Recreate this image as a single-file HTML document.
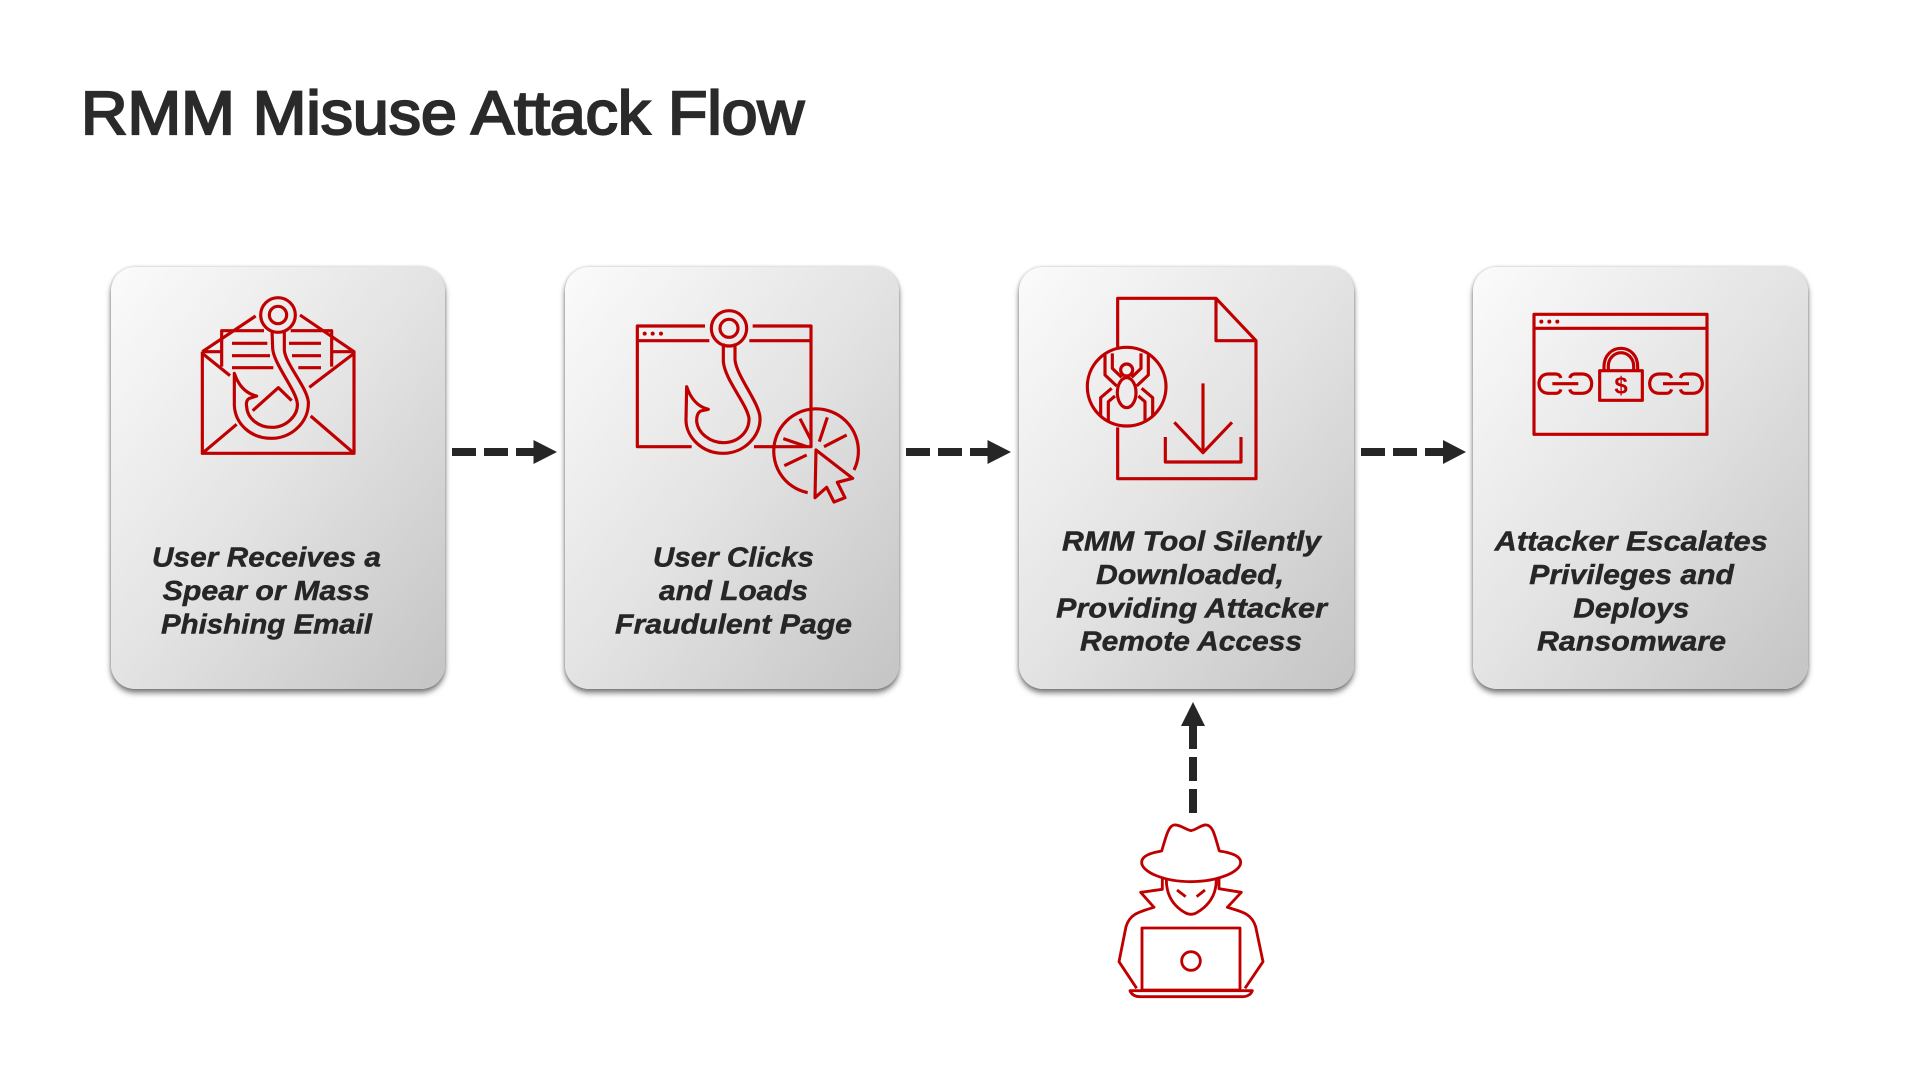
<!DOCTYPE html>
<html>
<head>
<meta charset="utf-8">
<title>RMM Misuse Attack Flow</title>
<style>
html,body{margin:0;padding:0;background:#fff;width:1920px;height:1080px;overflow:hidden}
.card{position:absolute;top:267px;width:334px;height:422px;border-radius:24px;background:linear-gradient(to bottom right,#fbfbfb 0%,#e3e3e3 50%,#c4c4c4 100%);box-shadow:0 4px 6px rgba(0,0,0,.5),0 0 3px rgba(0,0,0,.22)}
svg{position:absolute;left:0;top:0}
.lbl{font-family:"Liberation Sans",sans-serif;font-weight:700;font-style:italic;font-size:28px;fill:#262626;stroke:#262626;stroke-width:.45px}
.ttl{font-family:"Liberation Sans",sans-serif;font-weight:400;font-size:61px;fill:#2a2a2a;stroke:#2a2a2a;stroke-width:2.2px}
.ic{fill:none;stroke:#c00000;stroke-width:9.5;stroke-linejoin:round;stroke-linecap:butt}
.dk{fill:#262626;stroke:none}
</style>
</head>
<body>
<div class="card" style="left:111px"></div>
<div class="card" style="left:565px"></div>
<div class="card" style="left:1019px;width:335px"></div>
<div class="card" style="left:1473px;width:335px"></div>
<svg width="1920" height="1080" viewBox="0 0 1920 1080">
<text class="ttl" x="81" y="134" textLength="723" lengthAdjust="spacingAndGlyphs">RMM Misuse Attack Flow</text>

<!-- Labels -->
<g class="lbl">
<text x="152" y="566.7" textLength="229" lengthAdjust="spacingAndGlyphs">User Receives a</text>
<text x="162.7" y="600" textLength="207.3" lengthAdjust="spacingAndGlyphs">Spear or Mass</text>
<text x="161" y="633.3" textLength="211" lengthAdjust="spacingAndGlyphs">Phishing Email</text>

<text x="653" y="566.7" textLength="161" lengthAdjust="spacingAndGlyphs">User Clicks</text>
<text x="659" y="600" textLength="149" lengthAdjust="spacingAndGlyphs">and Loads</text>
<text x="615" y="633.3" textLength="237" lengthAdjust="spacingAndGlyphs">Fraudulent Page</text>

<text x="1062" y="550.7" textLength="259" lengthAdjust="spacingAndGlyphs">RMM Tool Silently</text>
<text x="1096" y="584" textLength="188" lengthAdjust="spacingAndGlyphs">Downloaded,</text>
<text x="1056" y="617.7" textLength="271" lengthAdjust="spacingAndGlyphs">Providing Attacker</text>
<text x="1080" y="650.7" textLength="222" lengthAdjust="spacingAndGlyphs">Remote Access</text>

<text x="1494.7" y="550.7" textLength="273" lengthAdjust="spacingAndGlyphs">Attacker Escalates</text>
<text x="1529.3" y="584" textLength="204.7" lengthAdjust="spacingAndGlyphs">Privileges and</text>
<text x="1573.3" y="617.7" textLength="116" lengthAdjust="spacingAndGlyphs">Deploys</text>
<text x="1537" y="650.7" textLength="189" lengthAdjust="spacingAndGlyphs">Ransomware</text>
</g>

<!-- Connectors -->
<g class="dk">
<rect x="452" y="448" width="24" height="8"/><rect x="484" y="448" width="24" height="8"/><rect x="516" y="448" width="20" height="8"/><polygon points="533.5,440 557,452 533.5,464"/>
<rect x="906" y="448" width="24" height="8"/><rect x="938" y="448" width="24" height="8"/><rect x="970" y="448" width="20" height="8"/><polygon points="987.5,440 1011,452 987.5,464"/>
<rect x="1361" y="448" width="24" height="8"/><rect x="1393" y="448" width="24" height="8"/><rect x="1425" y="448" width="20" height="8"/><polygon points="1443,440 1466,452 1443,464"/>
<polygon points="1193,702 1205,726 1181,726"/><rect x="1189" y="725" width="8" height="24"/><rect x="1189" y="757" width="8" height="24"/><rect x="1189" y="789" width="8" height="24"/>
</g>

<!-- Icon 1: envelope and hook -->
<g class="ic" transform="translate(190 290) scale(.33333)">
<path d="M37,185 V490 H492 V185 H425 M37,185 H95 M37,185 L197,78 M330,75 L492,185"/>
<path d="M95,230 V122 H222 M302,122 H425 V230"/>
<path d="M37,190 L120,257 M492,190 L358,292 M37,490 L140,403 M492,490 L362,378 M188,362 L265,293 L305,332"/>
<path d="M126,160 H232 M297,160 H393 M126,197 H240 M306,197 H393 M126,233 H250 M325,233 H393"/>
<circle cx="264" cy="75" r="52"/><circle cx="264" cy="75" r="26"/>
<path d="M283,122 V180 C285,220 350,290 355,335 C358,395 305,445 245,445 C180,445 135,400 133,345 L133,250 C145,285 165,310 200,318 L178,325 C170,330 168,340 170,350 C172,385 205,412 245,412 C290,412 325,375 322,340 C318,300 250,220 248,175 L246,120"/>
</g>

<!-- Icon 2: window, hook and click -->
<g class="ic" transform="translate(630 300) scale(.33333)">
<path d="M225,78 H22 V440 H185 M368,78 H543 V440 H372 M22,122 H238 M358,122 H543"/>
<g style="fill:#c00000;stroke:none"><circle cx="44" cy="101" r="6"/><circle cx="68" cy="101" r="6"/><circle cx="93" cy="101" r="6"/></g>
<circle cx="297" cy="85" r="53"/><circle cx="297" cy="85" r="27"/>
<path d="M315,130 V180 C320,230 390,310 390,355 C392,410 340,460 280,460 C215,460 168,410 168,360 L170,260 C180,290 200,320 235,328 L212,333 C200,340 200,355 200,365 C205,400 240,428 280,428 C325,428 358,395 357,355 C350,310 285,240 280,185 L280,130"/>
<path d="M672,510 A127,127 0 1 0 533,578"/>
<path d="M510,356 L543,420 M592,352 L568,425 M650,405 L582,440 M460,416 L530,440 M530,465 L463,497"/>
<path d="M558,450 L668,535 L622,547 L645,593 L612,606 L590,562 L555,593 Z"/>
</g>

<!-- Icon 3: document, spider and download -->
<g class="ic" transform="translate(1080 290) scale(.33333)">
<path d="M113,172 V25 H408 L528,152 V566 H113 V412 M408,25 V152 H528"/>
<circle cx="140" cy="290" r="118"/>
<circle cx="140" cy="240" r="18"/><ellipse cx="140" cy="308" rx="28" ry="45"/>
<path d="M75,195 V255 L110,288 M97,190 V235 L125,262 M205,195 V255 L170,288 M183,190 V235 L155,262 M95,295 L62,323 V380 M105,318 L85,335 V395 M185,295 L218,323 V380 M175,318 L195,335 V395"/>
<path d="M369,280 V488 M283,397 L369,488 L456,397 M256,441 V516 H483 V441"/>
</g>

<!-- Icon 4: window, lock and chains -->
<g class="ic" transform="translate(1525 305) scale(.33333)">
<rect x="27" y="28" width="519" height="360"/>
<path d="M27,70 H546"/>
<g style="fill:#c00000;stroke:none"><circle cx="49" cy="50" r="6"/><circle cx="73" cy="50" r="6"/><circle cx="97" cy="50" r="6"/></g>
<rect x="224" y="197" width="128" height="89"/>
<path d="M237,197 V185 C237,150 262,130 288,130 C314,130 338,150 338,185 V197 M250,197 V183 C250,160 268,143 288,143 C308,143 326,160 326,183 V197"/>
<text x="288" y="265" text-anchor="middle" style="font-family:'Liberation Sans',sans-serif;font-weight:700;font-size:72px;fill:#c00000;stroke:none">$</text>
<path d="M108,219 Q104,207 92,207 H70 C52,207 42,220 42,236 C42,252 52,265 70,265 H92 Q104,265 108,253 M134,219 Q138,207 150,207 H172 C190,207 200,220 200,236 C200,252 190,265 172,265 H150 Q138,265 134,253 M82,236 H160"/>
<path d="M440,219 Q436,207 424,207 H402 C384,207 374,220 374,236 C374,252 384,265 402,265 H424 Q436,265 440,253 M466,219 Q470,207 482,207 H504 C522,207 532,220 532,236 C532,252 522,265 504,265 H482 Q470,265 466,253 M414,236 H492"/>
</g>

<!-- Hacker -->
<g class="ic" style="stroke-width:8.5" transform="translate(1090 690) scale(.33333)">
<path d="M303,422 C285,418 270,403 252,405 C235,408 228,440 215,483 C190,487 155,495 155,517 C155,545 220,575 303,575 C385,575 452,545 452,517 C452,495 415,487 388,483 C375,440 370,408 350,405 C335,403 322,418 303,422 Z"/>
<path d="M229,565 C228,610 245,645 285,668 Q303,678 320,668 C360,645 380,610 379,565"/>
<path d="M261,600 L287,620 M345,600 L320,620"/>
<path d="M217,560 V598 L152,607 L192,652 C150,665 120,670 108,710 L87,815 L140,895"/>
<path d="M387,560 V596 L454,607 L412,652 C455,665 485,670 497,710 L519,815 L465,895"/>
<rect x="156" y="714" width="294" height="186"/>
<circle cx="303" cy="813" r="28"/>
<path d="M120,902 H487 C483,914 470,920 460,920 H150 C135,920 125,914 120,902 Z"/>
</g>
</svg>
</body>
</html>
